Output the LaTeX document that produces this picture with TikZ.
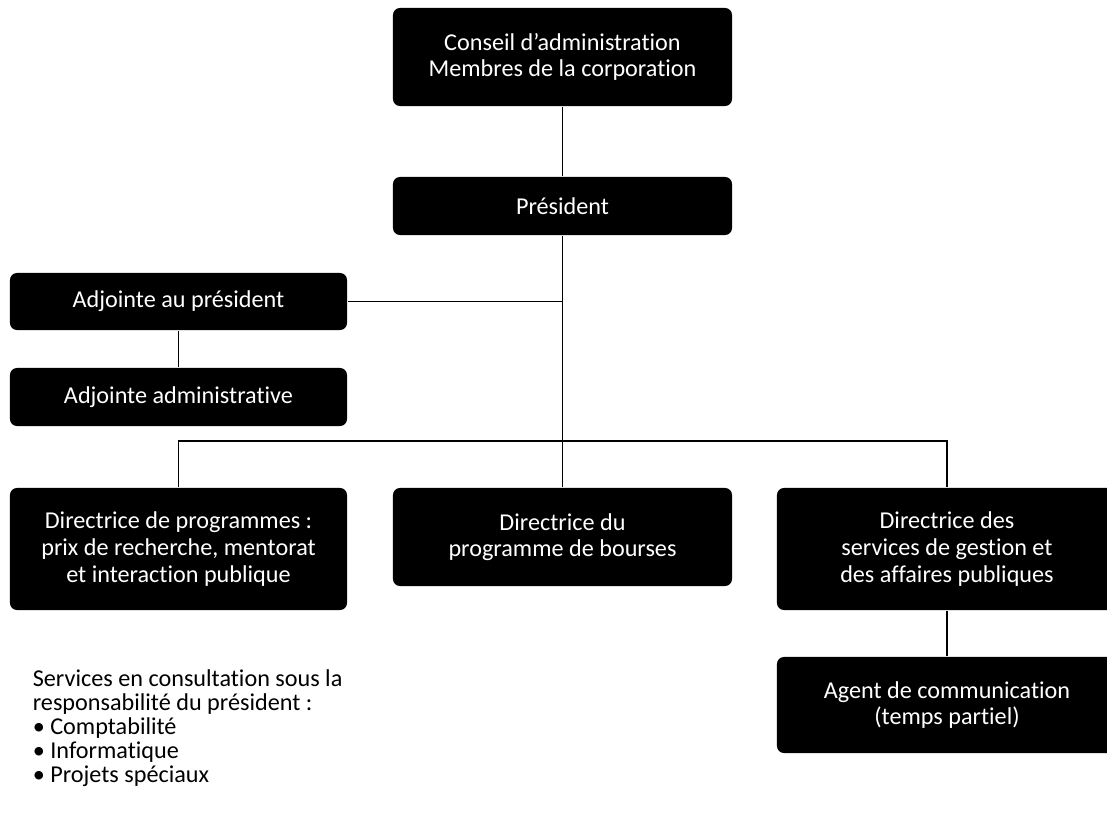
\documentclass[tikz,border=0pt]{standalone}
\usepackage{fontspec}
\setmainfont{Carlito}[Ligatures=NoCommon]

\begin{document}
\begin{tikzpicture}[x=0.025cm,y=-0.025cm,line width=1.2pt,
  poste/.style={fill=black,text=white,rounded corners=5pt,align=center,
    inner sep=0pt,font=\fontsize{17.2}{18.9}\selectfont}]
  \useasboundingbox (0,0) rectangle (1107,817);
  \clip (0,0) rectangle (1107,817);
  % boxes
  \node[poste,minimum width=8.475cm,minimum height=2.45cm] (conseil) at (562.5,57)
    {Conseil d’administration\\Membres de la corporation};
  \node[poste,minimum width=8.475cm,minimum height=1.45cm] (president) at (562.5,206) {Président};
  \node[poste,minimum width=8.425cm,minimum height=1.425cm] (adjpres) at (178.5,301.5) {Adjointe au président};
  \node[poste,minimum width=8.425cm,minimum height=1.45cm] (adjadmin) at (178.5,397) {Adjointe administrative};
  \node[poste,minimum width=8.425cm,minimum height=3.05cm] (dirprog) at (178.5,549)
    {Directrice de programmes :\\prix de recherche, mentorat\\et interaction publique};
  \node[poste,minimum width=8.475cm,minimum height=2.45cm] (dirbourses) at (562.5,537)
    {Directrice du\\programme de bourses};
  \node[poste,minimum width=8.5cm,minimum height=3.05cm] (dirgestion) at (947,549)
    {Directrice des\\services de gestion et\\des affaires publiques};
  \node[poste,minimum width=8.5cm,minimum height=2.4cm] (agent) at (947,705)
    {Agent de communication\\(temps partiel)};
  % lines
  \coordinate (bus) at (562.5,441);
  \draw (conseil) -- (president);
  \draw (president) -- (bus);
  \draw (adjpres.east) -- (adjpres.east -| president.south);
  \draw (adjpres) -- (adjadmin);
  \draw (dirprog.north) |- (bus) -| (dirgestion.north);
  \draw (bus) -- (dirbourses);
  \draw (dirgestion) -- (agent);
  % consultants
  \node[anchor=north west,align=left,inner sep=0pt,font=\fontsize{17.2}{17}\selectfont] (consult) at (32,669)
    {Services en consultation sous la\\responsabilité du président :\\• Comptabilité\\• Informatique\\• Projets spéciaux};
\end{tikzpicture}
\end{document}
